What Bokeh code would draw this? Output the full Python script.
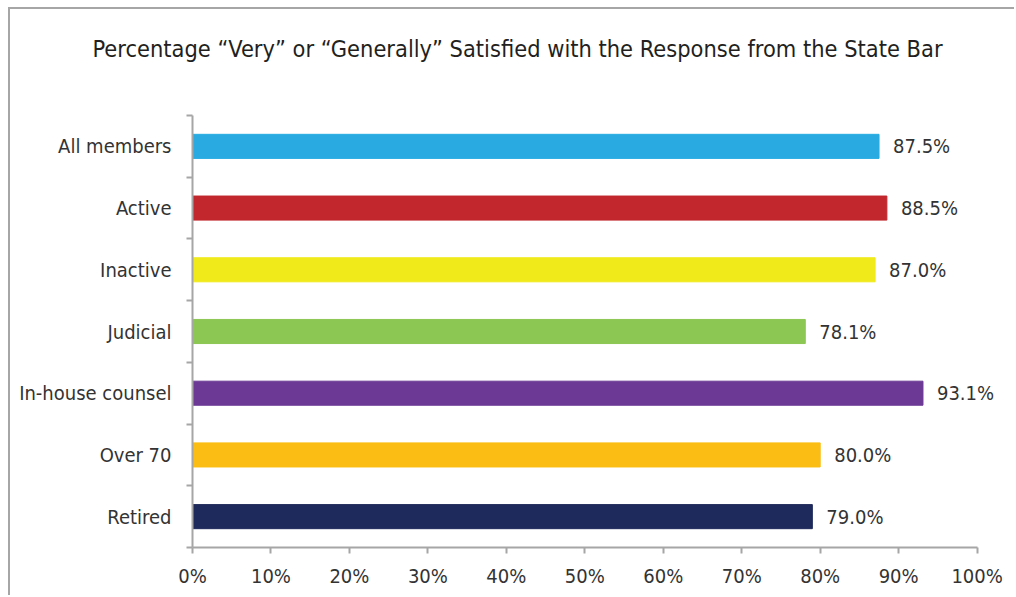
from bokeh.plotting import figure
from bokeh.models import Range1d, FixedTicker, PrintfTickFormatter, ColumnDataSource, Title, LabelSet
from bokeh.core.properties import value
from bokeh.embed import file_html
from bokeh.resources import INLINE

categories = ["All members", "Active", "Inactive", "Judicial", "In-house counsel", "Over 70", "Retired"]
values = [87.5, 88.5, 87.0, 78.1, 93.1, 80.0, 79.0]
value_labels = ["87.5%", "88.5%", "87.0%", "78.1%", "93.1%", "80.0%", "79.0%"]
colors = ["#29abe2", "#c1272d", "#f1ea1b", "#8dc753", "#6c3a95", "#fbbd13", "#1f2a5c"]
x_ticks = [0, 10, 20, 30, 40, 50, 60, 70, 80, 90, 100]
title_text = "Percentage \u201cVery\u201d or \u201cGenerally\u201d Satisfied with the Response from the State Bar"

FONT = "DejaVu Sans Condensed"
n = len(categories)
ys = list(range(n))

src = ColumnDataSource(dict(y=ys, v=values, c=colors, lab=value_labels))

p = figure(width=1006, height=588, output_backend="svg", toolbar_location=None,
           x_range=Range1d(0, 104), y_range=Range1d(n - 0.5, -0.5),
           min_border_left=182, min_border_right=8, min_border_top=106, min_border_bottom=50)
p.margin = (7, 0, 0, 8)
p.styles = {"border-left": "2px solid #a6a6a6", "border-top": "2px solid #a6a6a6"}
p.outline_line_color = None
p.grid.visible = False
p.background_fill_color = "white"
p.border_fill_color = "white"

p.hbar(y="y", right="v", left=0, height=0.39, color="c", source=src)

labels = LabelSet(x="v", y="y", text="lab", source=src, x_offset=14, text_baseline="middle",
                  text_font=value(FONT), text_font_size="20px", text_color="#333333")
p.add_layout(labels)

# y axis
p.yaxis.ticker = FixedTicker(ticks=ys, minor_ticks=[i - 0.5 for i in range(n + 1)])
p.yaxis.major_label_overrides = {i: c for i, c in enumerate(categories)}
p.yaxis.major_tick_line_color = None
p.yaxis.minor_tick_out = 6
p.yaxis.minor_tick_in = 0
p.yaxis.minor_tick_line_color = "#a6a6a6"
p.yaxis.minor_tick_line_width = 2
p.yaxis.axis_line_color = "#a6a6a6"
p.yaxis.axis_line_width = 2
p.yaxis.major_label_text_font = FONT
p.yaxis.major_label_text_font_size = "20px"
p.yaxis.major_label_text_color = "#333333"
p.yaxis.major_label_standoff = 15

# x axis
p.xaxis.bounds = (0, 100)
p.xaxis.ticker = FixedTicker(ticks=x_ticks, minor_ticks=[])
p.xaxis.formatter = PrintfTickFormatter(format="%d%%")
p.xaxis.major_tick_out = 6
p.xaxis.major_tick_in = 0
p.xaxis.major_tick_line_color = "#a6a6a6"
p.xaxis.major_tick_line_width = 2
p.xaxis.axis_line_color = "#a6a6a6"
p.xaxis.axis_line_width = 2
p.xaxis.major_label_text_font = FONT
p.xaxis.major_label_text_font_size = "20px"
p.xaxis.major_label_text_color = "#333333"
p.xaxis.major_label_standoff = 10

# spacer between title and plot area
spacer = Title(text=" ", standoff=22, text_font_size="20px", text_color="white")
p.add_layout(spacer, "above")

title = Title(text=title_text, align="left", offset=-100, vertical_align="top", standoff=10,
              text_font=FONT, text_font_size="23.4px", text_font_style="normal", text_color="#231f20")
p.add_layout(title, "above")

open("out.html", "w").write(file_html(p, INLINE))
